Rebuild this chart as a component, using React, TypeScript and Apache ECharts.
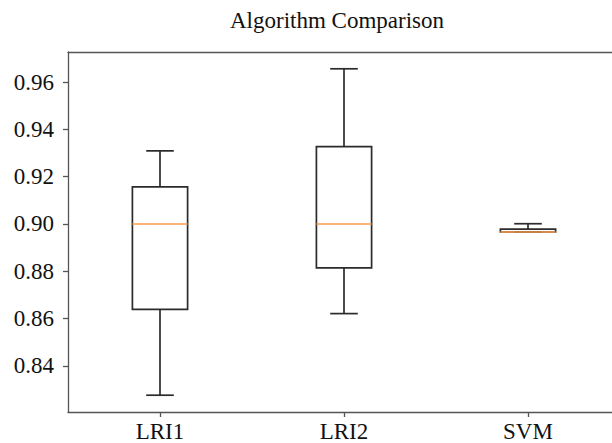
import React, { useEffect, useRef } from "react";
import * as echarts from "echarts";

const categories = ["LRI1", "LRI2", "SVM"];
const positions = [1, 2, 3];
// [whiskerLow, Q1, median, Q3, whiskerHigh]
const lri1 = [0.8276, 0.8639, 0.9, 0.9157, 0.9309];
const lri2 = [0.8621, 0.8814, 0.9, 0.9327, 0.9656];
const svm = [0.8966, 0.8966, 0.8966, 0.8978, 0.9001];
const yTicks = [0.84, 0.86, 0.88, 0.9, 0.92, 0.94, 0.96];
const titleText = "Algorithm Comparison";

const FONT = "Liberation Serif";

export default function App() {
  const ref = useRef<HTMLDivElement>(null);
  useEffect(() => {
    if (!ref.current) return;
    const chart = echarts.init(ref.current, null, { renderer: "svg" });
    const rows = [lri1, lri2, svm].map((r, i) => [positions[i], ...r]);
    const axisLineStyle = { color: "#555", width: 1.3 };
    chart.setOption({
      animation: false,
      backgroundColor: "#ffffff",
      graphic: [
        {
          type: "text",
          x: 337,
          y: 20.5,
          style: {
            text: titleText,
            fontFamily: FONT,
            fontSize: 23,
            fill: "#111",
            align: "center",
            verticalAlign: "middle",
          },
        },
      ],
      grid: {
        show: false,
        left: 68,
        top: 52,
        right: 0,
        bottom: 31,
      },
      xAxis: [
        {
          type: "value",
          min: 0.5,
          max: 3.4565,
          axisLine: { show: true, onZero: false, lineStyle: axisLineStyle },
          axisTick: { show: true, length: 5, customValues: positions, lineStyle: axisLineStyle },
          axisLabel: {
            fontFamily: FONT,
            fontSize: 23,
            color: "#111",
            margin: 8,
            customValues: positions,
            formatter: (v: number) => categories[Math.round(v) - 1] ?? "",
          },
          splitLine: { show: false },
        },
        {
          type: "value",
          min: 0.5,
          max: 3.4565,
          position: "top",
          axisLine: { show: true, onZero: false, lineStyle: axisLineStyle },
          axisTick: { show: false },
          axisLabel: { show: false },
          splitLine: { show: false },
        },
      ],
      yAxis: {
        type: "value",
        min: 0.8205,
        max: 0.9727,
        axisLine: { show: true, onZero: false, lineStyle: axisLineStyle },
        axisTick: { show: true, length: 5, customValues: yTicks, lineStyle: axisLineStyle },
        axisLabel: {
          fontFamily: FONT,
          fontSize: 23,
          color: "#111",
          margin: 14,
          customValues: yTicks,
          formatter: (v: number) => v.toFixed(2),
        },
        splitLine: { show: false },
      },
      series: [
        {
          type: "custom",
          data: rows,
          xAxisIndex: 0,
          clip: false,
          encode: { x: 0, y: [1, 2, 3, 4, 5] },
          renderItem: (params: any, api: any) => {
            const pos = api.value(0);
            const lo = api.coord([pos, api.value(1)]);
            const q1 = api.coord([pos, api.value(2)]);
            const med = api.coord([pos, api.value(3)]);
            const q3 = api.coord([pos, api.value(4)]);
            const hi = api.coord([pos, api.value(5)]);
            const unit = api.size([1, 0])[0];
            const hw = unit * 0.15;
            const cw = unit * 0.075;
            const x = lo[0];
            const dark = { stroke: "#2b2b2b", lineWidth: 1.7, fill: "none" };
            return {
              type: "group",
              children: [
                { type: "line", shape: { x1: x, y1: q3[1], x2: x, y2: hi[1] }, style: dark },
                { type: "line", shape: { x1: x, y1: lo[1], x2: x, y2: q1[1] }, style: dark },
                { type: "line", shape: { x1: x - cw, y1: hi[1], x2: x + cw, y2: hi[1] }, style: dark },
                { type: "line", shape: { x1: x - cw, y1: lo[1], x2: x + cw, y2: lo[1] }, style: dark },
                {
                  type: "rect",
                  shape: { x: x - hw, y: q3[1], width: hw * 2, height: q1[1] - q3[1] },
                  style: dark,
                },
                {
                  type: "line",
                  shape: { x1: x - hw, y1: med[1], x2: x + hw, y2: med[1] },
                  style: { stroke: "#f99a4c", lineWidth: 1.6 },
                },
              ],
            };
          },
        },
      ],
    });
    return () => chart.dispose();
  }, []);
  return (
    <div style={{ position: "fixed", left: 0, top: 0, width: 612, height: 443, overflow: "hidden", background: "#fff" }}>
      <div ref={ref} style={{ width: 612, height: 443 }} />
    </div>
  );
}
